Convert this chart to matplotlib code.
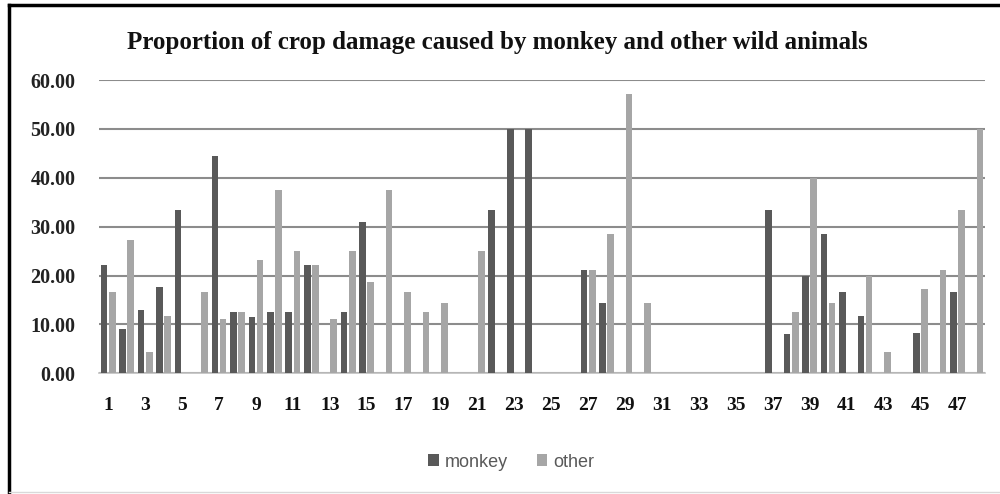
import matplotlib
matplotlib.use("Agg")
import matplotlib.pyplot as plt
import numpy as np
from matplotlib.lines import Line2D

# Proportion (%) of crop damage per surveyed farm
farms = list(range(1, 49))
monkey = [22.22, 9.09, 13.04, 17.65, 33.33, 0, 44.44, 12.50, 11.54, 12.50,
          12.50, 22.22, 0, 12.50, 31.03, 0, 0, 0, 0, 0,
          0, 33.33, 50.00, 50.00, 0, 0, 21.05, 14.29, 0, 0,
          0, 0, 0, 0, 0, 0, 33.33, 8.00, 20.00, 28.57,
          16.67, 11.76, 0, 0, 8.33, 0, 16.67, 0]
other = [16.67, 27.27, 4.35, 11.76, 0, 16.67, 11.11, 12.50, 23.08, 37.50,
         25.00, 22.22, 11.11, 25.00, 18.75, 37.50, 16.67, 12.50, 14.29, 0,
         25.00, 0, 0, 0, 0, 0, 21.05, 28.57, 57.14, 14.29,
         0, 0, 0, 0, 0, 0, 0, 12.50, 40.00, 14.29,
         0, 20.00, 4.35, 0, 17.24, 21.05, 33.33, 50.00]
tick_farms = farms[::2]
y_ticks = [0, 10, 20, 30, 40, 50, 60]

W, H = 1000, 494
fig = plt.figure(figsize=(W / 100, H / 100), dpi=100)
ax = fig.add_axes([99 / W, 1 - 373.3 / H, (985 - 99) / W, (373.3 - 80) / H])

x = np.array(farms, dtype=float)
bw = 0.36
off = 0.22
ax.bar(x - off, monkey, width=bw, color="#595959", label="monkey", zorder=3)
ax.bar(x + off, other, width=bw, color="#a6a6a6", label="other", zorder=3)

ax.set_xlim(0.5, 48.5)
ax.set_ylim(0, 60)
ax.set_yticks(y_ticks)
ax.set_yticklabels([f"{v:.2f}" for v in y_ticks])
ax.set_xticks(tick_farms)
ax.set_xticklabels([str(v) for v in tick_farms])
ax.grid(axis="y", color="#8c8c8c", linewidth=1.5, zorder=0)
ax.set_axisbelow(True)
for s in ["top", "right", "left"]:
    ax.spines[s].set_visible(False)
ax.spines["bottom"].set_color("#bfbfbf")
ax.spines["bottom"].set_linewidth(1.2)
ax.tick_params(axis="both", length=0)
ax.tick_params(axis="y", pad=17)
ax.tick_params(axis="x", pad=17)
for lab in ax.get_yticklabels():
    lab.set_fontfamily("Liberation Serif")
    lab.set_fontweight("bold")
    lab.set_fontsize(14.5)
    lab.set_color("#222222")
for lab in ax.get_xticklabels():
    lab.set_fontfamily("Liberation Serif")
    lab.set_fontweight("bold")
    lab.set_fontsize(14)
    lab.set_color("#111111")

fig.text(0.497, 1 - 42 / H, "Proportion of crop damage caused by monkey and other wild animals",
         ha="center", va="center", fontfamily="Liberation Serif", fontweight="bold",
         fontsize=18, color="#111111")

leg = fig.legend(loc="center", bbox_to_anchor=(0.511, 1 - 462 / H), ncol=2,
                 frameon=False, handlelength=0.6, handleheight=0.6,
                 handletextpad=0.3, columnspacing=1.6,
                 prop={"family": "Liberation Sans", "size": 13})
for t in leg.get_texts():
    t.set_color("#595959")

# outer frame of the chart
fig.add_artist(Line2D([9 / W, 9 / W], [0, 1 - 5 / H], transform=fig.transFigure,
                      color="black", linewidth=2.5))
fig.add_artist(Line2D([9 / W, 1], [1 - 5 / H, 1 - 5 / H], transform=fig.transFigure,
                      color="black", linewidth=2.5))
fig.add_artist(Line2D([9 / W, 1], [1 - 492 / H, 1 - 492 / H], transform=fig.transFigure,
                      color="#d9d9d9", linewidth=1.0))

fig.savefig("out.png", dpi=100)
